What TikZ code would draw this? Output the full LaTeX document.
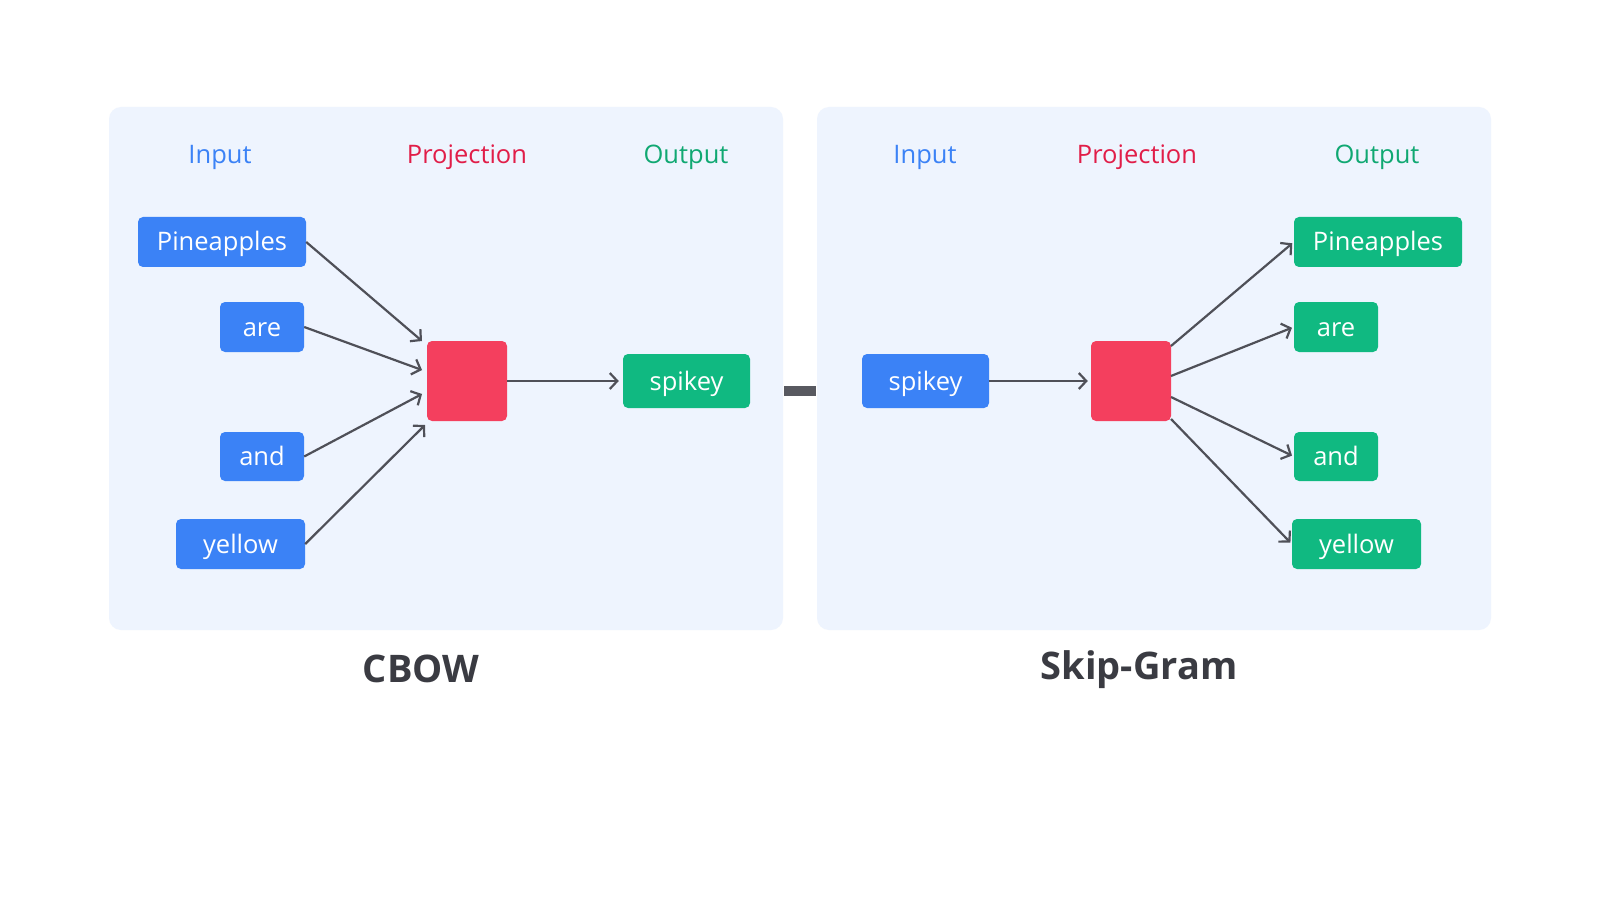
\documentclass[tikz,border=0pt]{standalone}
\usepackage{fontspec}
\setmainfont{Open Sans}
\usetikzlibrary{arrows.meta}
\definecolor{panelbg}{HTML}{EEF4FE}
\definecolor{bluebox}{HTML}{3B82F6}
\definecolor{greenbox}{HTML}{10B981}
\definecolor{redbox}{HTML}{F43F5E}
\definecolor{hdrblue}{HTML}{3B82F6}
\definecolor{hdrred}{HTML}{E11D48}
\definecolor{hdrgreen}{HTML}{10A872}
\definecolor{arrowgray}{HTML}{4F5058}
\definecolor{titlegray}{HTML}{3A3B42}
\tikzset{
  panel/.style={fill=panelbg, rounded corners=12pt, draw=none},
  wordbox/.style={rounded corners=5pt, minimum height=50pt, inner sep=0pt, text height=24pt, text depth=6pt, text=white, font=\fontsize{25.5}{30}\selectfont},
  inbox/.style={wordbox, fill=bluebox},
  outbox/.style={wordbox, fill=greenbox},
  proj/.style={fill=redbox, rounded corners=5pt, minimum width=80pt, minimum height=80pt, inner sep=0pt},
  hdr/.style={font=\fontsize{25.5}{30}\selectfont},
  ttl/.style={font=\fontsize{38}{44}\selectfont\bfseries, text=titlegray},
  arr/.style={draw=arrowgray, line width=2.2pt, -{Straight Barb[length=7.5pt,width=16pt,line width=2.2pt]}},
}
\begin{document}
\begin{tikzpicture}[x=1pt,y=-1pt]
\useasboundingbox[fill=white] (0,0) rectangle (1600,901);
% panels
\fill[panel] (109,107) rectangle (783,630);
\fill[panel] (817,107) rectangle (1491,630);
\fill[arrowgray!95] (784,386) rectangle (816,396);
% headers
\node[hdr, text=hdrblue] (hinL) at (220,157) {Input};
\node[hdr, text=hdrred] (hprL) at (467,157) {Projection};
\node[hdr, text=hdrgreen] (houL) at (686,157) {Output};
\node[hdr, text=hdrblue] (hinR) at (925,157) {Input};
\node[hdr, text=hdrred] (hprR) at (1137,157) {Projection};
\node[hdr, text=hdrgreen] (houR) at (1377,157) {Output};
% CBOW
\node[inbox, minimum width=168pt] (lp) at (222,242) {Pineapples};
\node[inbox, minimum width=84pt] (la) at (262,327) {are};
\node[inbox, minimum width=84pt, minimum height=49pt] (ln) at (262,456.5) {and};
\node[inbox, minimum width=129pt] (ly) at (240.5,544) {yellow};
\node[proj] (lr) at (467,381) {};
\node[outbox, minimum width=127pt, minimum height=54pt] (ls) at (686.5,381) {spikey};
\coordinate (lt1) at (422,341);
\coordinate (lt2) at (422,370);
\coordinate (lt3) at (422,394);
\coordinate (lt4) at (425,425);
\draw[arr] (lp.east) -- (lt1);
\draw[arr] (la.east) -- (lt2);
\draw[arr] (ln.east) -- (lt3);
\draw[arr] (ly.east) -- (lt4);
\draw[arr, shorten >=4pt] (lr.east) -- (ls.west);
% Skip-gram
\node[inbox, minimum width=127pt, minimum height=54pt] (rs) at (925.5,381) {spikey};
\node[proj] (rr) at (1131,381) {};
\node[outbox, minimum width=168pt] (rp) at (1378,242) {Pineapples};
\node[outbox, minimum width=84pt] (ra) at (1336,327) {are};
\node[outbox, minimum width=84pt, minimum height=49pt] (rn) at (1336,456.5) {and};
\node[outbox, minimum width=129pt] (ry) at (1356.5,544) {yellow};
\coordinate (rs1) at (1171,346);
\coordinate (rs2) at (1171,376);
\coordinate (rs3) at (1171,397);
\coordinate (rs4) at (1171,419);
\draw[arr, shorten >=3pt] (rs.east) -- (rr.west);
\draw[arr, shorten >=2pt] (rs1) -- (rp.west);
\draw[arr, shorten >=2pt] (rs2) -- (ra.west);
\draw[arr, shorten >=2pt] (rs3) -- (rn.west);
\draw[arr, shorten >=2pt] (rs4) -- (ry.west);
% titles
\node[ttl] (tc) at (421,669) {CBOW};
\node[ttl] (tsg) at (1139,670) {Skip-Gram};
\end{tikzpicture}
\end{document}
